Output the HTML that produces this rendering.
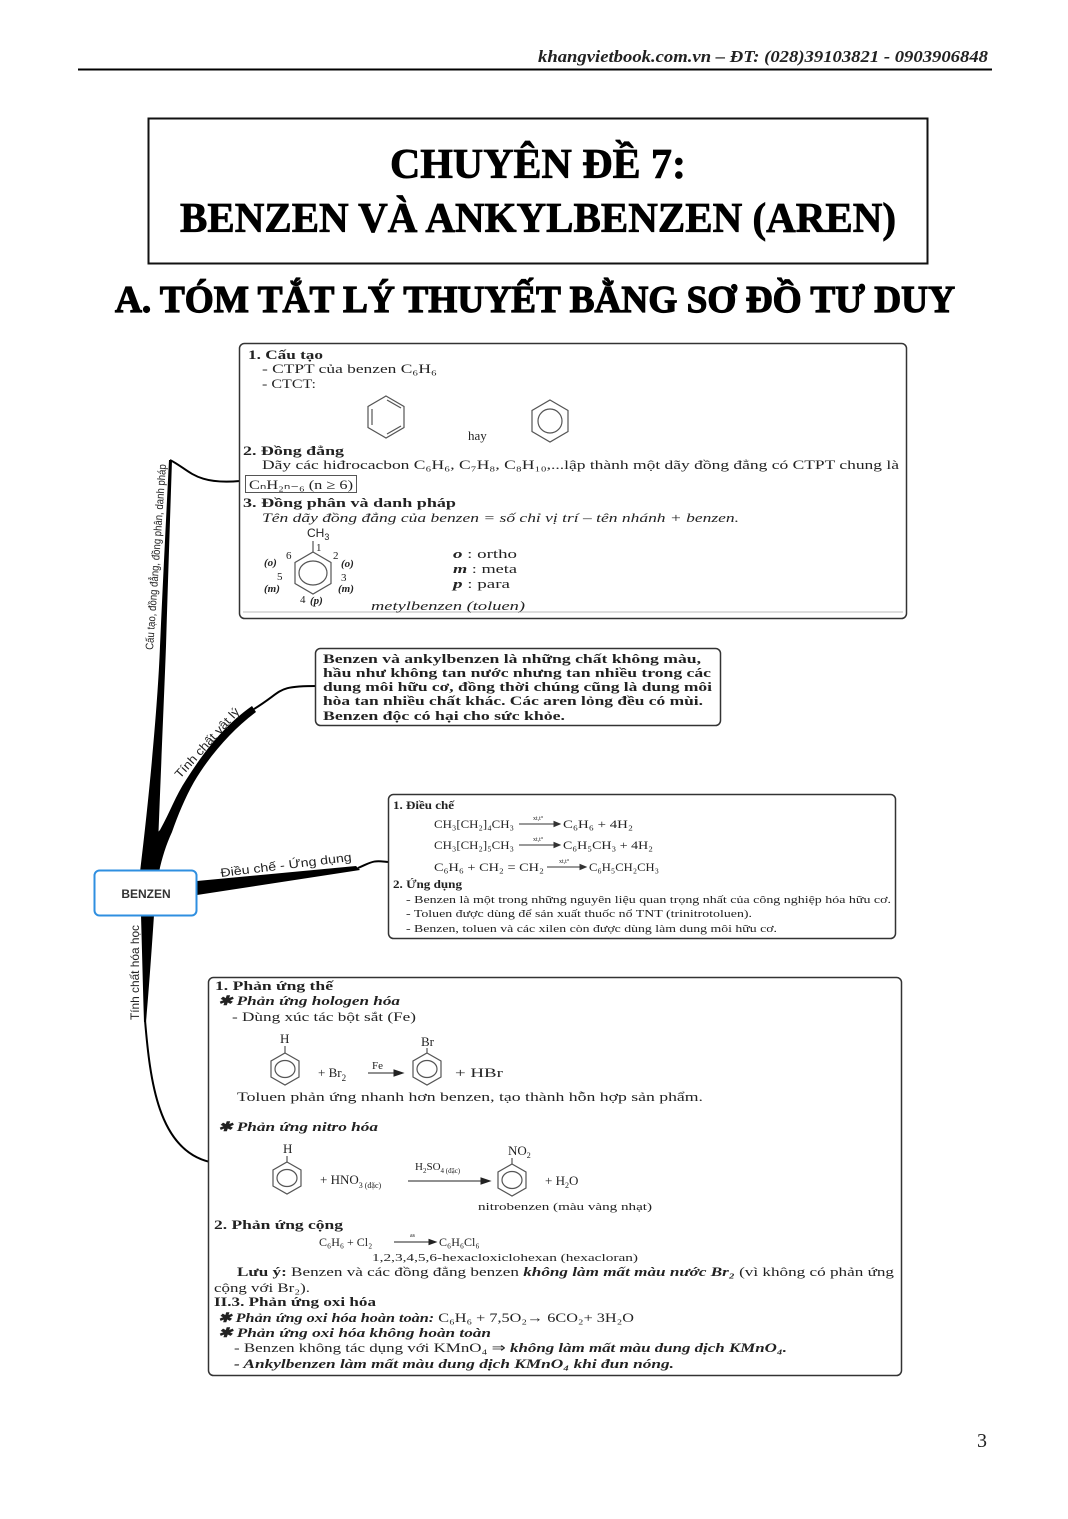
<!DOCTYPE html>
<html><head><meta charset="utf-8"><style>
html,body{margin:0;padding:0;background:#fff}
svg{display:block}
.s{font-family:"Liberation Serif",serif;fill:#222}
.a{font-family:"Liberation Sans",sans-serif;fill:#222}
.b{font-weight:bold}
.i{font-style:italic}
.k{fill:#000}
</style></head><body>
<svg width="1068" height="1519" viewBox="0 0 1068 1519" xmlns="http://www.w3.org/2000/svg">
<!-- header -->
<text class="s b i" x="988" y="62" font-size="17" text-anchor="end" textLength="450" lengthAdjust="spacingAndGlyphs">khangvietbook.com.vn – ĐT: (028)39103821 - 0903906848</text>
<line x1="78" y1="69.5" x2="992" y2="69.5" stroke="#000" stroke-width="2"/>
<rect x="148.5" y="118.5" width="779" height="145" fill="none" stroke="#111" stroke-width="2"/>
<text class="s b k" x="538" y="178" font-size="42" text-anchor="middle" style="fill:#000;stroke:#000;stroke-width:0.8" textLength="296" lengthAdjust="spacingAndGlyphs">CHUYÊN ĐỀ 7:</text>
<text class="s b k" x="538" y="232" font-size="42" text-anchor="middle" style="fill:#000;stroke:#000;stroke-width:0.8" textLength="716" lengthAdjust="spacingAndGlyphs">BENZEN VÀ ANKYLBENZEN (AREN)</text>
<text class="s b k" x="535" y="312" font-size="38" text-anchor="middle" style="fill:#000;stroke:#000;stroke-width:1.2" textLength="840" lengthAdjust="spacingAndGlyphs">A. TÓM TẮT LÝ THUYẾT BẰNG SƠ ĐỒ TƯ DUY</text>

<!-- branches -->
<path d="M140,872 C150,790 158,700 160,646 C163,580 166,520 169,460 L172,460 C170,520 168,580 166,646 C164,700 160,790 157,872 Z" fill="#000"/>
<path d="M170,460 C190,470 195,485 240,481" fill="none" stroke="#000" stroke-width="2"/>
<path d="M141,872 C148,850 152,838 160,830 C170,812 176,795 186,780 C205,750 225,725 252,706 L256,712 C232,730 210,755 194,782 C185,798 178,815 172,832 C166,845 162,858 159,872 Z" fill="#000"/>
<path d="M254,709 C285,690 275,686 318,686" fill="none" stroke="#000" stroke-width="2"/>
<path d="M197,881 L356,866 L360,870 L197,895 Z" fill="#000"/>
<path d="M358,868 C372,862 372,860 388,862" fill="none" stroke="#000" stroke-width="2"/>
<path d="M141,915 L154,915 C151,960 148,1000 146,1022 L144,1022 C143,990 142,950 141,915 Z" fill="#000"/>
<path d="M145,1020 C150,1080 158,1150 210,1162" fill="none" stroke="#000" stroke-width="2"/>

<text class="a" font-size="11" transform="translate(153,650) rotate(-86)" textLength="186" lengthAdjust="spacingAndGlyphs">Cấu tạo, đồng đẳng, đồng phân, danh pháp</text>
<text class="a" font-size="12" transform="translate(180,779) rotate(-48)" textLength="90" lengthAdjust="spacingAndGlyphs">Tính chất vật lý</text>
<text class="a" font-size="12" transform="translate(221,877) rotate(-7)" textLength="132" lengthAdjust="spacingAndGlyphs">Điều chế - Ứng dụng</text>
<text class="a" font-size="12" transform="translate(139,1020) rotate(-90)" textLength="95" lengthAdjust="spacingAndGlyphs">Tính chất hóa học</text>

<rect x="94.5" y="870.5" width="102" height="45" rx="5" fill="#fff" stroke="#2f8fe0" stroke-width="2"/>
<text class="a b" x="146" y="898" font-size="12" text-anchor="middle" style="fill:#333">BENZEN</text>

<!-- box1 -->
<rect x="239.5" y="343.5" width="667" height="275" rx="5" fill="#fff" stroke="#333" stroke-width="1.5"/>
<line x1="243" y1="612" x2="903" y2="612" stroke="#bbb" stroke-width="1"/>
<text class="s b" x="248" y="359" font-size="13" textLength="75" lengthAdjust="spacingAndGlyphs">1. Cấu tạo</text>
<text class="s" x="262" y="373" font-size="13" textLength="175" lengthAdjust="spacingAndGlyphs">- CTPT của benzen C₆H₆</text>
<text class="s" x="262" y="388" font-size="13" textLength="54" lengthAdjust="spacingAndGlyphs">- CTCT:</text>
<g fill="none" stroke="#555" stroke-width="1.2">
<polygon points="386,396 404,406.5 404,427.5 386,438 368,427.5 368,406.5"/>
<line x1="372" y1="409" x2="372" y2="425"/><line x1="387" y1="400" x2="401" y2="408"/><line x1="387" y1="434" x2="401" y2="426"/>
<polygon points="550,400 568,410.5 568,431.5 550,442 532,431.5 532,410.5"/>
<circle cx="550" cy="421" r="12"/>
</g>
<text class="s" x="468" y="440" font-size="13">hay</text>
<text class="s b" x="243" y="455" font-size="13" textLength="101" lengthAdjust="spacingAndGlyphs">2. Đồng đẳng</text>
<text class="s" x="262" y="469" font-size="13" textLength="637" lengthAdjust="spacingAndGlyphs">Dãy các hiđrocacbon C₆H₆, C₇H₈, C₈H₁₀,...lập thành một dãy đồng đẳng có CTPT chung là</text>
<rect x="245.5" y="475.5" width="111" height="17" fill="none" stroke="#555"/>
<text class="s" x="249" y="489" font-size="13" textLength="104" lengthAdjust="spacingAndGlyphs">CₙH₂ₙ₋₆ (n ≥ 6)</text>
<text class="s b" x="243" y="507" font-size="13" textLength="213" lengthAdjust="spacingAndGlyphs">3. Đồng phân và danh pháp</text>
<text class="s i" x="262" y="522" font-size="13" textLength="477" lengthAdjust="spacingAndGlyphs">Tên dãy đồng đẳng của benzen = số chỉ vị trí – tên nhánh + benzen.</text>
<text class="a" x="307" y="537" font-size="12">CH<tspan font-size="9" dy="3">3</tspan></text>
<g fill="none" stroke="#555" stroke-width="1.2">
<line x1="313" y1="541" x2="313" y2="552"/>
<polygon points="313,552 331,562.5 331,583.5 313,594 295,583.5 295,562.5"/>
<ellipse cx="313" cy="573" rx="14" ry="12"/>
</g>
<g class="s" font-size="11">
<text x="316" y="551">1</text><text x="333" y="559">2</text><text x="341" y="581">3</text>
<text x="300" y="603">4</text><text x="277" y="580">5</text><text x="286" y="559">6</text>
<text class="i b" x="264" y="566">(o)</text><text class="i b" x="341" y="567">(o)</text>
<text class="i b" x="264" y="592">(m)</text><text class="i b" x="338" y="592">(m)</text>
<text class="i b" x="310" y="604">(p)</text>
</g>
<text class="s" x="453" y="558" font-size="13" textLength="64" lengthAdjust="spacingAndGlyphs"><tspan class="b i">o</tspan> : ortho</text>
<text class="s" x="453" y="573" font-size="13" textLength="64" lengthAdjust="spacingAndGlyphs"><tspan class="b i">m</tspan> : meta</text>
<text class="s" x="453" y="588" font-size="13" textLength="57" lengthAdjust="spacingAndGlyphs"><tspan class="b i">p</tspan> : para</text>
<text class="s i" x="371" y="610" font-size="13" textLength="154" lengthAdjust="spacingAndGlyphs">metylbenzen (toluen)</text>

<!-- box2 -->
<rect x="315.5" y="648.5" width="405" height="77" rx="5" fill="#fff" stroke="#333" stroke-width="1.5"/>
<g class="s b" font-size="13">
<text x="323" y="663" textLength="378" lengthAdjust="spacingAndGlyphs">Benzen và ankylbenzen là những chất không màu,</text>
<text x="323" y="677" textLength="388" lengthAdjust="spacingAndGlyphs">hầu như không tan nước nhưng tan nhiều trong các</text>
<text x="323" y="691" textLength="389" lengthAdjust="spacingAndGlyphs">dung môi hữu cơ, đồng thời chúng cũng là dung môi</text>
<text x="323" y="705" textLength="380" lengthAdjust="spacingAndGlyphs">hòa tan nhiều chất khác. Các aren lỏng đều có mùi.</text>
<text x="323" y="720" textLength="242" lengthAdjust="spacingAndGlyphs">Benzen độc có hại cho sức khỏe.</text>
</g>

<!-- box3 -->
<rect x="388.5" y="794.5" width="507" height="144" rx="5" fill="#fff" stroke="#333" stroke-width="1.5"/>
<g class="s" font-size="12">
<text class="b" x="393" y="809" textLength="61" lengthAdjust="spacingAndGlyphs">1. Điều chế</text>
<text x="434" y="828" textLength="80" lengthAdjust="spacingAndGlyphs">CH₃[CH₂]₄CH₃</text>
<text x="563" y="828" textLength="70" lengthAdjust="spacingAndGlyphs">C₆H₆  +  4H₂</text>
<text x="434" y="849" textLength="80" lengthAdjust="spacingAndGlyphs">CH₃[CH₂]₅CH₃</text>
<text x="563" y="849" textLength="90" lengthAdjust="spacingAndGlyphs">C₆H₅CH₃  +  4H₂</text>
<text x="434" y="871" textLength="110" lengthAdjust="spacingAndGlyphs">C₆H₆  +  CH₂ = CH₂</text>
<text x="589" y="871" textLength="70" lengthAdjust="spacingAndGlyphs">C₆H₅CH₂CH₃</text>
<text class="b" x="393" y="888" textLength="69" lengthAdjust="spacingAndGlyphs">2. Ứng dụng</text>
<text x="406" y="903" font-size="11" textLength="485" lengthAdjust="spacingAndGlyphs">- Benzen là một trong những nguyên liệu quan trọng nhất của công nghiệp hóa hữu cơ.</text>
<text x="406" y="917" font-size="11" textLength="346" lengthAdjust="spacingAndGlyphs">- Toluen được dùng để sản xuất thuốc nổ TNT (trinitrotoluen).</text>
<text x="406" y="932" font-size="11" textLength="371" lengthAdjust="spacingAndGlyphs">- Benzen, toluen và các xilen còn được dùng làm dung môi hữu cơ.</text>
<text x="533" y="820" font-size="6">xt,t°</text><text x="533" y="841" font-size="6">xt,t°</text><text x="559" y="863" font-size="6">xt,t°</text>
</g>
<g stroke="#333" stroke-width="1" fill="#333">
<line x1="519" y1="824" x2="556" y2="824"/><polygon points="560,824 554,821.5 554,826.5"/>
<line x1="519" y1="845" x2="556" y2="845"/><polygon points="560,845 554,842.5 554,847.5"/>
<line x1="547" y1="867" x2="582" y2="867"/><polygon points="586,867 580,864.5 580,869.5"/>
</g>

<!-- box4 -->
<rect x="208.5" y="977.5" width="693" height="398" rx="5" fill="#fff" stroke="#333" stroke-width="1.5"/>
<g class="s" font-size="13">
<text class="b" x="215" y="990" textLength="118" lengthAdjust="spacingAndGlyphs">1. Phản ứng thế</text>
<text class="b i" x="218" y="1005" textLength="182" lengthAdjust="spacingAndGlyphs">✱ Phản ứng hologen hóa</text>
<text x="232" y="1021" textLength="184" lengthAdjust="spacingAndGlyphs">- Dùng xúc tác bột sắt (Fe)</text>
<text x="280" y="1043">H</text>
<text x="318" y="1077">+  Br<tspan font-size="9" dy="4">2</tspan></text>
<text x="372" y="1069" font-size="11">Fe</text>
<text x="421" y="1046">Br</text>
<text x="455" y="1077" textLength="48" lengthAdjust="spacingAndGlyphs">+  HBr</text>
<text x="237" y="1101" textLength="466" lengthAdjust="spacingAndGlyphs">Toluen phản ứng nhanh hơn benzen, tạo thành hỗn hợp sản phẩm.</text>
<text class="b i" x="218" y="1131" textLength="160" lengthAdjust="spacingAndGlyphs">✱ Phản ứng nitro hóa</text>
<text x="283" y="1153">H</text>
<text x="320" y="1184">+  HNO<tspan font-size="8" dy="4">3 (đặc)</tspan></text>
<text x="415" y="1170" font-size="11">H<tspan font-size="7" dy="3">2</tspan><tspan dy="-3">SO</tspan><tspan font-size="7" dy="3">4 (đặc)</tspan></text>
<text x="508" y="1155">NO<tspan font-size="8" dy="3">2</tspan></text>
<text x="545" y="1185">+  H<tspan font-size="8" dy="3">2</tspan><tspan dy="-3">O</tspan></text>
<text x="478" y="1210" font-size="10" textLength="174" lengthAdjust="spacingAndGlyphs">nitrobenzen (màu vàng nhạt)</text>
<text class="b" x="214" y="1229" textLength="129" lengthAdjust="spacingAndGlyphs">2. Phản ứng cộng</text>
<text x="319" y="1246" font-size="12">C₆H₆  +  Cl₂</text>
<text x="439" y="1246" font-size="12">C₆H₆Cl₆</text>
<text x="372" y="1261" font-size="11" textLength="266" lengthAdjust="spacingAndGlyphs">1,2,3,4,5,6-hexacloxiclohexan (hexacloran)</text>
<text x="237" y="1276" textLength="657" lengthAdjust="spacingAndGlyphs"><tspan class="b">Lưu ý:</tspan> Benzen và các đồng đẳng benzen <tspan class="b i">không làm mất màu nước Br₂</tspan> (vì không có phản ứng</text>
<text x="214" y="1292" textLength="96" lengthAdjust="spacingAndGlyphs">cộng với Br₂).</text>
<text class="b" x="214" y="1306" textLength="162" lengthAdjust="spacingAndGlyphs">II.3. Phản ứng oxi hóa</text>
<text x="218" y="1322" textLength="416" lengthAdjust="spacingAndGlyphs"><tspan class="b i">✱ Phản ứng oxi hóa hoàn toàn:</tspan> C₆H₆ + 7,5O₂→ 6CO₂+ 3H₂O</text>
<text class="b i" x="218" y="1337" textLength="273" lengthAdjust="spacingAndGlyphs">✱ Phản ứng oxi hóa không hoàn toàn</text>
<text x="234" y="1352" textLength="553" lengthAdjust="spacingAndGlyphs">- Benzen không tác dụng với KMnO₄ ⇒ <tspan class="b i">không làm mất màu dung dịch KMnO₄.</tspan></text>
<text class="b i" x="234" y="1368" textLength="440" lengthAdjust="spacingAndGlyphs">- Ankylbenzen làm mất màu dung dịch KMnO₄ khi đun nóng.</text>
</g>
<g fill="none" stroke="#555" stroke-width="1.2">
<line x1="285" y1="1046" x2="285" y2="1053"/>
<polygon points="285,1053 299,1061 299,1077 285,1085 271,1077 271,1061"/><ellipse cx="285" cy="1069" rx="10" ry="8.5"/>
<line x1="427" y1="1048" x2="427" y2="1053"/>
<polygon points="427,1053 441,1061 441,1077 427,1085 413,1077 413,1061"/><ellipse cx="427" cy="1069" rx="10" ry="8.5"/>
<line x1="287" y1="1156" x2="287" y2="1162"/>
<polygon points="287,1162 301,1170 301,1186 287,1194 273,1186 273,1170"/><ellipse cx="287" cy="1178" rx="10" ry="8.5"/>
<line x1="512" y1="1158" x2="512" y2="1164"/>
<polygon points="512,1164 526,1172 526,1188 512,1196 498,1188 498,1172"/><ellipse cx="512" cy="1180" rx="10" ry="8.5"/>
</g>
<g stroke="#222" stroke-width="1" fill="#222">
<line x1="368" y1="1073" x2="396" y2="1073"/><polygon points="403,1073 394,1070 394,1076"/>
<line x1="408" y1="1181" x2="482" y2="1181"/><polygon points="490,1181 481,1178 481,1184"/>
<line x1="394" y1="1242" x2="430" y2="1242"/><polygon points="436,1242 429,1239.5 429,1244.5"/>
</g>
<text class="s" x="410" y="1237" font-size="6">as</text>

<text class="s" x="982" y="1447" font-size="20" text-anchor="middle">3</text>
</svg>
</body></html>
